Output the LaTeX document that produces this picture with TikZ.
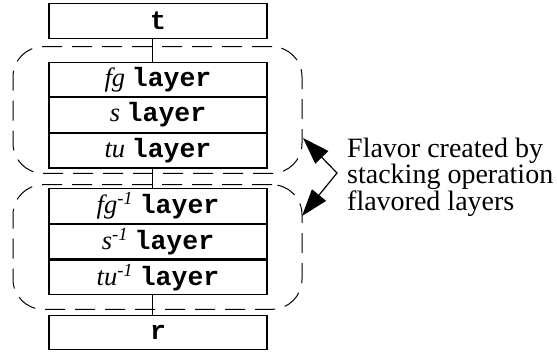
\documentclass[tikz,border=0pt]{standalone}
\usepackage{fontspec}
\setmainfont{Liberation Serif}
\setmonofont{Liberation Mono}
\usetikzlibrary{arrows.meta,positioning}

\newcommand{\lyr}[1]{\textit{#1}~\texttt{\textbf{layer}}}
\newcommand{\inv}[1]{\textit{#1}\textsuperscript{\textit{-1}}}

\begin{document}
\begin{tikzpicture}[x=1pt,y=-1pt,>={Triangle[length=27pt,width=18pt]},
  layerbox/.style={draw,line width=1.1pt,minimum width=218pt,minimum height=34.5pt,
    inner sep=0pt,font=\fontsize{26.5}{28}\selectfont},
  group/.style={draw,dashed,dash pattern=on 20pt off 10pt,line width=1pt,
    rounded corners=30pt,minimum width=289pt,inner sep=0pt}]
 \useasboundingbox (0,0) rectangle (557,354);
 % stack of layers
 \node[layerbox] (t) at (158,21) {\texttt{\textbf{t}}};
 \node[layerbox] (fg) at (158,79.5) {\lyr{fg}};
 \node[layerbox,below=0pt of fg] (s) {\lyr{s}};
 \node[layerbox,below=0pt of s] (tu) {\lyr{tu}};
 \node[layerbox] (fginv) at (158,206) {\inv{fg}~\texttt{\textbf{layer}}};
 \node[layerbox,below=0pt of fginv] (sinv) {\inv{s}~\texttt{\textbf{layer}}};
 \node[layerbox,below=0pt of sinv] (tuinv) {\inv{tu}~\texttt{\textbf{layer}}};
 \node[layerbox] (r) at (158,332.5) {\texttt{\textbf{r}}};
 % links
 \draw[line width=1pt] ([xshift=-6pt]t.south) -- ([xshift=-6pt]fg.north);
 \draw[line width=1pt] ([xshift=-6pt]tu.south) -- ([xshift=-6pt]fginv.north);
 \draw[line width=1pt] ([xshift=-6pt]tuinv.south) -- ([xshift=-6pt]r.north);
 % dashed groups
 \node[group,minimum height=126.6pt] (upper) at (157.5,110) {};
 \node[group,minimum height=124.6pt] (lower) at (157.5,247) {};
 % arrow and note
 \coordinate (tipA) at (303,138);
 \coordinate (bend) at (337,173);
 \coordinate (tipB) at (302,216);
 \draw[<->,line width=1.2pt] (tipA) -- (bend) -- (tipB);
 \node[anchor=west,align=left,inner sep=0pt,font=\fontsize{28}{24.5}\selectfont] (note) at (347,177)
  {Flavor created by\\stacking operation\\flavored layers};
\end{tikzpicture}
\end{document}
